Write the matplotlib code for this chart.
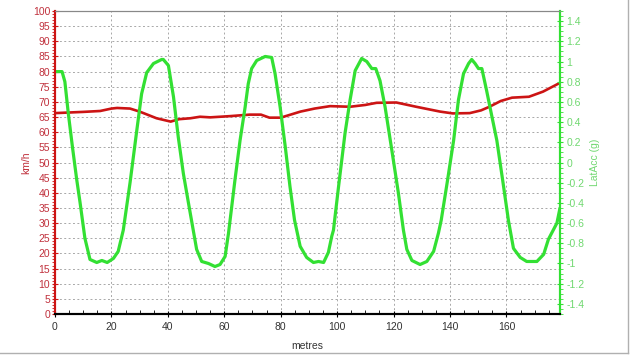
import matplotlib
matplotlib.use('Agg')
import matplotlib.pyplot as plt
from matplotlib.lines import Line2D
from matplotlib.ticker import MultipleLocator
import numpy as np

plt.rcParams['font.family'] = ['Liberation Sans', 'DejaVu Sans']

# speed trace (km/h) vs distance (metres)
speed_x = [0, 5, 10, 16, 20, 22, 26.6, 30, 36, 41, 44, 48, 51.4, 55, 62, 69, 73,
           76, 80, 87, 92, 97.5, 104.6, 110, 114, 121, 128, 136.5, 141, 147,
           151, 154, 158, 162, 168, 173, 179]
speed = [66.3, 66.5, 66.7, 67.0, 67.8, 68.0, 67.8, 66.8, 64.6, 63.5, 64.3, 64.6,
         65.1, 64.9, 65.3, 65.8, 65.8, 64.8, 64.8, 66.8, 67.8, 68.6, 68.4, 69.0,
         69.7, 69.8, 68.4, 66.8, 66.2, 66.3, 67.2, 68.4, 70.3, 71.4, 71.7, 73.4,
         76.3]

# lateral acceleration (g) vs distance (metres)
lat_x = [0, 2.5, 3.5, 4.7, 6.2, 7.7, 8.9, 10.6, 12.4, 14.8, 16.6, 18.5, 20.7,
         22.4, 24.2, 26.6, 29.0, 30.7, 32.5, 34.9, 37.8, 38.4, 40.2, 42.0, 43.7,
         45.5, 47.3, 49.0, 50.2, 52.0, 54.4, 56.7, 58.5, 60.3, 61.5, 63.8, 65.6,
         67.4, 68.5, 69.7, 71.5, 74.5, 76.8, 78.0, 79.8, 81.6, 83.3, 84.9, 86.9,
         89.2, 91.6, 93.4, 95.2, 96.9, 98.1, 98.7, 100.5, 102.8, 104.6, 106.4,
         108.7, 110.5, 112.3, 113.7, 115.2, 117.0, 119.4, 121.7, 123.5, 124.7,
         126.5, 129.4, 131.8, 134.2, 135.9, 136.9, 139.0, 141.3, 143.0, 144.8,
         146.6, 147.7, 148.9, 150.1, 151.3, 153.0, 154.9, 156.6, 158.7, 160.7,
         162.5, 164.9, 167.2, 170.8, 173.2, 174.9, 177.9, 179]
lat_acc = [0.9, 0.9, 0.8, 0.49, 0.15, -0.17, -0.4, -0.75, -0.96, -0.99, -0.97,
           -0.99, -0.95, -0.88, -0.67, -0.2, 0.32, 0.68, 0.89, 0.98, 1.02, 1.02,
           0.96, 0.65, 0.25, -0.11, -0.40, -0.67, -0.86, -0.98, -1.0, -1.03,
           -1.01, -0.93, -0.7, -0.17, 0.22, 0.55, 0.78, 0.93, 1.01, 1.05, 1.04,
           0.88, 0.55, 0.16, -0.24, -0.57, -0.83, -0.94, -0.99, -0.98, -0.99,
           -0.89, -0.73, -0.67, -0.24, 0.29, 0.62, 0.91, 1.03, 1.0, 0.93, 0.93,
           0.81, 0.55, 0.12, -0.30, -0.67, -0.86, -0.97, -1.01, -0.98, -0.88,
           -0.70, -0.57, -0.2, 0.22, 0.62, 0.88, 0.98, 1.02, 0.98, 0.93, 0.93,
           0.71, 0.45, 0.22, -0.18, -0.57, -0.85, -0.94, -0.98, -0.98, -0.91,
           -0.76, -0.6, -0.45]

lat_ticks = np.round(np.arange(-1.4, 1.41, 0.2), 1) + 0.0

red = '#cc1414'
green = '#33e033'
red_txt = '#c0303c'
green_txt = '#70d870'

fig = plt.figure(figsize=(6.3, 3.55), dpi=100)
ax = fig.add_axes([0.0873, 0.1155, 0.8016, 0.8535])
ax2 = ax.twinx()

ax.plot(speed_x, speed, color=red, lw=1.9, solid_capstyle='round')
ax2.plot(lat_x, lat_acc, color=green, lw=2.3, solid_capstyle='round')

ax.set_xlim(0, 179)
ax.set_ylim(0, 100)
ax2.set_ylim(-1.5, 1.5)

ax.xaxis.set_major_locator(MultipleLocator(20))
ax.xaxis.set_minor_locator(MultipleLocator(5))
ax.yaxis.set_major_locator(MultipleLocator(5))
ax.yaxis.set_minor_locator(MultipleLocator(1))
ax2.yaxis.set_minor_locator(MultipleLocator(0.05))
ax2.set_yticks(lat_ticks)
ax2.set_yticklabels(['%g' % v for v in lat_ticks])

ax.grid(True, which='major', color='#a8a8a8', linestyle=(0, (2, 2.5)), lw=0.7)

ax.tick_params(axis='x', which='major', direction='inout', length=5, colors='black',
               labelcolor='#333333', labelsize=7.5)
ax.tick_params(axis='x', which='minor', direction='in', length=3, colors='black')
ax.tick_params(axis='y', which='major', direction='inout', length=5, colors=red,
               labelcolor=red_txt, labelsize=7.5, pad=1)
ax.tick_params(axis='y', which='minor', direction='out', length=2, colors=red)
ax2.tick_params(axis='y', which='major', direction='inout', length=5, colors=green,
                labelcolor=green_txt, labelsize=7.5, pad=2)
ax2.tick_params(axis='y', which='minor', direction='out', length=2, colors=green)

for a in (ax, ax2):
    a.spines['top'].set_color('#888888')
    a.spines['bottom'].set_color('black')
    a.spines['bottom'].set_linewidth(1.5)
    a.spines['left'].set_color(red)
    a.spines['left'].set_linewidth(1.5)
    a.spines['right'].set_color(green)
    a.spines['right'].set_linewidth(1.5)

ax.set_xlabel('metres', fontsize=7.5, color='#333333', labelpad=6)
ax.set_ylabel('km/h', fontsize=7.5, color=red_txt, labelpad=1)
ax2.set_ylabel('LatAcc (g)', fontsize=7.5, color=green_txt, labelpad=4)

# light frame on the right and bottom edge of the picture
fig.add_artist(Line2D([0, 0.997], [0.006, 0.006], transform=fig.transFigure,
                      color='#b0b0b0', lw=1))
fig.add_artist(Line2D([0.997, 0.997], [0.006, 1], transform=fig.transFigure,
                      color='#b0b0b0', lw=1))

fig.savefig('out.png', dpi=100)
